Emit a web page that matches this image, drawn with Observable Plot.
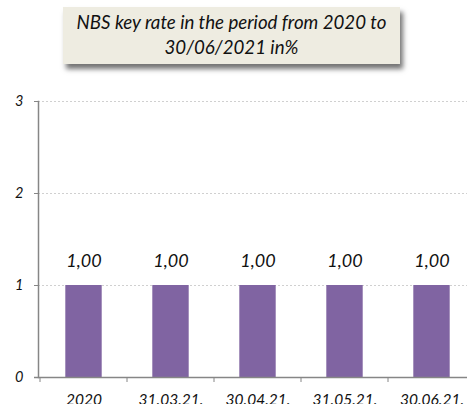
<!DOCTYPE html>
<html>
<head>
<meta charset="utf-8">
<script src="https://cdn.jsdelivr.net/npm/d3@7"></script>
<script src="https://cdn.jsdelivr.net/npm/@observablehq/plot@0.6"></script>
<style>
  html, body { margin: 0; padding: 0; background: #fff; overflow: hidden; width: 467px; height: 404px; }
  #wrap { position: relative; width: 467px; height: 404px; overflow: hidden; }
  #title {
    position: absolute; left: 63px; top: 7px; width: 337px; height: 57px;
    background: #eeece1; box-shadow: 3px 5px 5px rgba(0,0,0,0.55);
    font-family: Lato, sans-serif; font-style: italic; font-size: 18.7px; line-height: 25px;
    text-align: center; color: #111; box-sizing: border-box; padding-top: 3px;
  }
  #chart { position: absolute; left: 0; top: 85px; width: 476px; }
  #chart svg { overflow: visible; max-width: none !important; }
  #chart svg text { font-style: italic; }
</style>
</head>
<body>
<div id="wrap">
  <div id="title">NBS key rate in the period from 2020 to<br>30/06/2021 in%</div>
  <div id="chart"></div>
</div>
<script>
const categories = ["2020", "31.03.21.", "30.04.21.", "31.05.21.", "30.06.21."];
const rates = [1.00, 1.00, 1.00, 1.00, 1.00];
const yTicks = [0, 1, 2, 3];

const data = categories.map((c, i) => ({category: c, rate: rates[i]}));
const fmt = v => v.toFixed(2).replace(".", ",");
const axisColor = "#868686";

function boundaryTicks(index, scales, values, dimensions) {
  const g = d3.create("svg:g").attr("stroke", axisColor);
  const y0 = scales.y(0);
  categories.forEach(c => {
    const px = scales.x(c);
    g.append("line").attr("x1", px).attr("x2", px).attr("y1", y0).attr("y2", y0 + 5);
  });
  return g.node();
}

const chart = Plot.plot({
  width: 476,
  height: 319,
  marginLeft: 38,
  marginRight: 0,
  marginTop: 16,
  marginBottom: 27,
  style: {fontFamily: "Lato, sans-serif", fontStyle: "italic", fontSize: "13px", color: "#111", background: "transparent", maxWidth: "none"},
  x: {domain: categories, padding: 0, label: null},
  y: {domain: [0, 3], label: null},
  marks: [
    Plot.gridY(yTicks.slice(1), {stroke: "#d0d0d0", strokeOpacity: 1, strokeDasharray: "2,2"}),
    Plot.barY(data, {x: "category", y: "rate", fill: "#8064a2", insetLeft: 25.3, insetRight: 25.3}),
    Plot.text(data, {x: "category", y: "rate", text: d => fmt(d.rate), dy: -24, fontSize: 18, fontStyle: "italic", fill: "#111"}),
    Plot.axisY(yTicks, {tickSize: 4, tickPadding: 11, stroke: axisColor, fill: "#111", fontSize: 14.5, fontStyle: "italic", tickFormat: d => String(d), label: null}),
    Plot.axisX({tickSize: 0, tickPadding: 16, fill: "#111", fontSize: 15.5, fontStyle: "italic", label: null}),
    Plot.frame({anchor: "left", stroke: axisColor, strokeWidth: 1.5}),
    Plot.ruleY([0], {stroke: axisColor, strokeWidth: 1.5, insetLeft: -4}),
    boundaryTicks
  ]
});
chart.style.maxWidth = "none";
chart.style.height = "319px";
document.getElementById("chart").appendChild(chart);
</script>
</body>
</html>
